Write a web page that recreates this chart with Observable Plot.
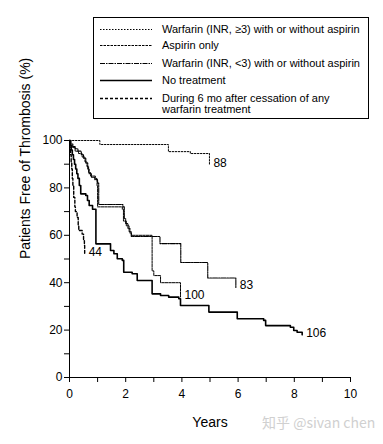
<!DOCTYPE html>
<html>
<head>
<meta charset="utf-8">
<script src="https://cdn.jsdelivr.net/npm/d3@7"></script>
<script src="https://cdn.jsdelivr.net/npm/@observablehq/plot@0.6"></script>
<style>
  html, body { margin: 0; padding: 0; background: #fff; }
  #wrap { position: relative; width: 383px; height: 444px; font-family: "Liberation Sans", Arial, sans-serif; }
  #legend { position: absolute; left: 93px; top: 17px; width: 276px; height: 102px; box-sizing: border-box; border: 1px solid #000; background: #fff; }
  .row { position: absolute; left: 0; font-size: 11px; line-height: 11px; color: #000; }
  .row svg { position: absolute; left: 6px; top: 0; }
  .row span { position: absolute; left: 68px; top: 0; white-space: nowrap; }
  #wm { position: absolute; left: 262px; top: 412px; font-size: 14px; color: #d0d0d0; font-family: "Noto Sans CJK SC", "Liberation Sans", sans-serif; white-space: nowrap; }
</style>
</head>
<body>
<div id="wrap"></div>
<script>
// ---- data ----
const seriesNames = [
  "Warfarin (INR, \u22653) with or without aspirin",
  "Aspirin only",
  "Warfarin (INR, <3) with or without aspirin",
  "No treatment",
  "During 6 mo after cessation of any warfarin treatment"
];
const endLabels = ["88", "100", "83", "106", "44"];

const warfHighYears = [0, 1.08, 3.52, 4.3, 4.98];
const warfHighPct   = [100, 98.3, 95.3, 94.5, 89.5];

const aspirinYears = [0, 0.04, 0.1, 0.2, 0.32, 0.45, 0.55, 0.62, 0.68, 0.75, 0.92, 0.98, 1.0, 1.88, 1.92, 2.02, 2.12, 2.2, 2.94, 3.0, 3.24, 3.95];
const aspirinPct   = [100, 98, 97, 95.5, 94.5, 93, 91, 89, 86.5, 85, 84, 81, 72, 71, 66, 64, 61.5, 60, 45, 43, 40, 34];

const warfLowYears = [0, 0.05, 0.12, 0.2, 0.3, 0.42, 0.5, 0.58, 0.65, 0.7, 0.78, 0.9, 1.0, 1.04, 1.9, 1.95, 2.0, 2.08, 2.15, 2.2, 3.22, 3.96, 4.92, 5.92];
const warfLowPct   = [100, 98.5, 97.5, 96.5, 95.5, 94, 92.5, 90.5, 88, 86, 84.5, 83.5, 82, 73, 72, 67, 65, 63, 61, 59.5, 56.5, 48.5, 42, 38];

const noTxYears = [0, 0.03, 0.06, 0.1, 0.14, 0.18, 0.22, 0.26, 0.3, 0.35, 0.4, 0.58, 0.64, 0.7, 0.82, 0.94, 1.46, 1.58, 1.7, 1.88, 1.93, 2.23, 2.41, 2.94, 3.24, 3.53, 3.89, 3.95, 4.96, 5.97, 6.91, 6.98, 7.86, 7.98, 8.1, 8.28];
const noTxPct   = [100, 98, 96, 94, 92, 90, 88, 86, 84, 81, 77.5, 76.8, 74.7, 72.6, 71, 56.4, 53.6, 52.2, 50.1, 49.4, 44.4, 43.8, 40.9, 35.3, 34.6, 33.9, 33.2, 30.4, 27.6, 24.8, 24.1, 21.9, 21.2, 19.8, 19.1, 18];

const afterYears = [0, 0.02, 0.04, 0.06, 0.08, 0.1, 0.12, 0.15, 0.19, 0.21, 0.27, 0.31, 0.33, 0.45, 0.5, 0.53, 0.54];
const afterPct   = [100, 97, 94, 91, 88, 84, 81, 76, 72, 70, 67.5, 64, 62, 60.5, 57.8, 55.7, 52];

const xMajorTicks = [0, 2, 4, 6, 8, 10];
const xMinorTicks = [1, 3, 5, 7, 9];
const yMajorTicks = [0, 20, 40, 60, 80, 100];
const yMinorTicks = [10, 30, 50, 70, 90];

// ---- build ----
const allYears = [warfHighYears, aspirinYears, warfLowYears, noTxYears, afterYears];
const allPct = [warfHighPct, aspirinPct, warfLowPct, noTxPct, afterPct];
const dashes = ["1.5,1.5", "2.5,1", "5,1,1.5,1", null, "3,2"];
const widths = [1, 1, 1.1, 1.6, 1.4];

const series = allYears.map((ys, i) => ys.map((t, j) => ({t, p: allPct[i][j], s: i})));
const ends = series.map((d, i) => ({...d[d.length - 1], label: endLabels[i]}));

const marks = [
  Plot.ruleY([0], {stroke: "#000", strokeWidth: 1}),
  Plot.ruleX([0], {stroke: "#000", strokeWidth: 1}),
  Plot.axisX({ticks: xMajorTicks, tickSize: 5, tickPadding: 7, fontSize: 12, label: null}),
  Plot.axisX({ticks: xMinorTicks, tickSize: 5, tickFormat: () => "", label: null}),
  Plot.axisY({ticks: yMajorTicks, tickSize: 5, tickPadding: 2, fontSize: 12, label: null}),
  Plot.axisY({ticks: yMinorTicks, tickSize: 5, tickFormat: () => "", label: null}),
  ...series.map((d, i) => Plot.line(d, {
    x: "t", y: "p", curve: "step-after", stroke: "#000",
    strokeWidth: widths[i], strokeDasharray: dashes[i] || undefined
  })),
  Plot.text(ends, {x: "t", y: "p", text: "label", textAnchor: "start", dx: 4, dy: -2, fontSize: 12, fill: "#000"}),
  Plot.text(["Patients Free of Thrombosis (%)"], {frameAnchor: "left", rotate: -90, dx: -44, fontSize: 14, fill: "#000"}),
  Plot.text(["Years"], {frameAnchor: "bottom", dy: 49, fontSize: 14, fill: "#000"})
];

const chart = Plot.plot({
  width: 383, height: 444,
  marginLeft: 69, marginRight: 33, marginTop: 140, marginBottom: 67,
  x: {domain: [0, 10]},
  y: {domain: [0, 100]},
  style: {fontFamily: "'Liberation Sans', Arial, sans-serif", color: "#000", background: "#fff", overflow: "visible"},
  marks
});
const wrap = document.getElementById("wrap");
wrap.appendChild(chart);

// legend
const legend = document.createElement("div");
legend.id = "legend";
const rowTops = [6, 22, 40, 57, 75];
seriesNames.forEach((name, i) => {
  const row = document.createElement("div");
  row.className = "row";
  row.style.top = rowTops[i] + "px";
  const ns = "http://www.w3.org/2000/svg";
  const svg = document.createElementNS(ns, "svg");
  svg.setAttribute("width", 54); svg.setAttribute("height", 11);
  const ln = document.createElementNS(ns, "line");
  ln.setAttribute("x1", 0); ln.setAttribute("x2", 52);
  ln.setAttribute("y1", 5.5); ln.setAttribute("y2", 5.5);
  ln.setAttribute("stroke", "#000");
  ln.setAttribute("stroke-width", widths[i]);
  if (dashes[i]) ln.setAttribute("stroke-dasharray", dashes[i]);
  svg.appendChild(ln);
  row.appendChild(svg);
  const span = document.createElement("span");
  if (i === 4) {
    span.innerHTML = "During 6 mo after cessation of any<br>warfarin treatment";
  } else {
    span.textContent = name;
  }
  row.appendChild(span);
  legend.appendChild(row);
});
wrap.appendChild(legend);

const wm = document.createElement("div");
wm.id = "wm";
wm.textContent = "知乎 @sivan chen";
wrap.appendChild(wm);
</script>
</body>
</html>
